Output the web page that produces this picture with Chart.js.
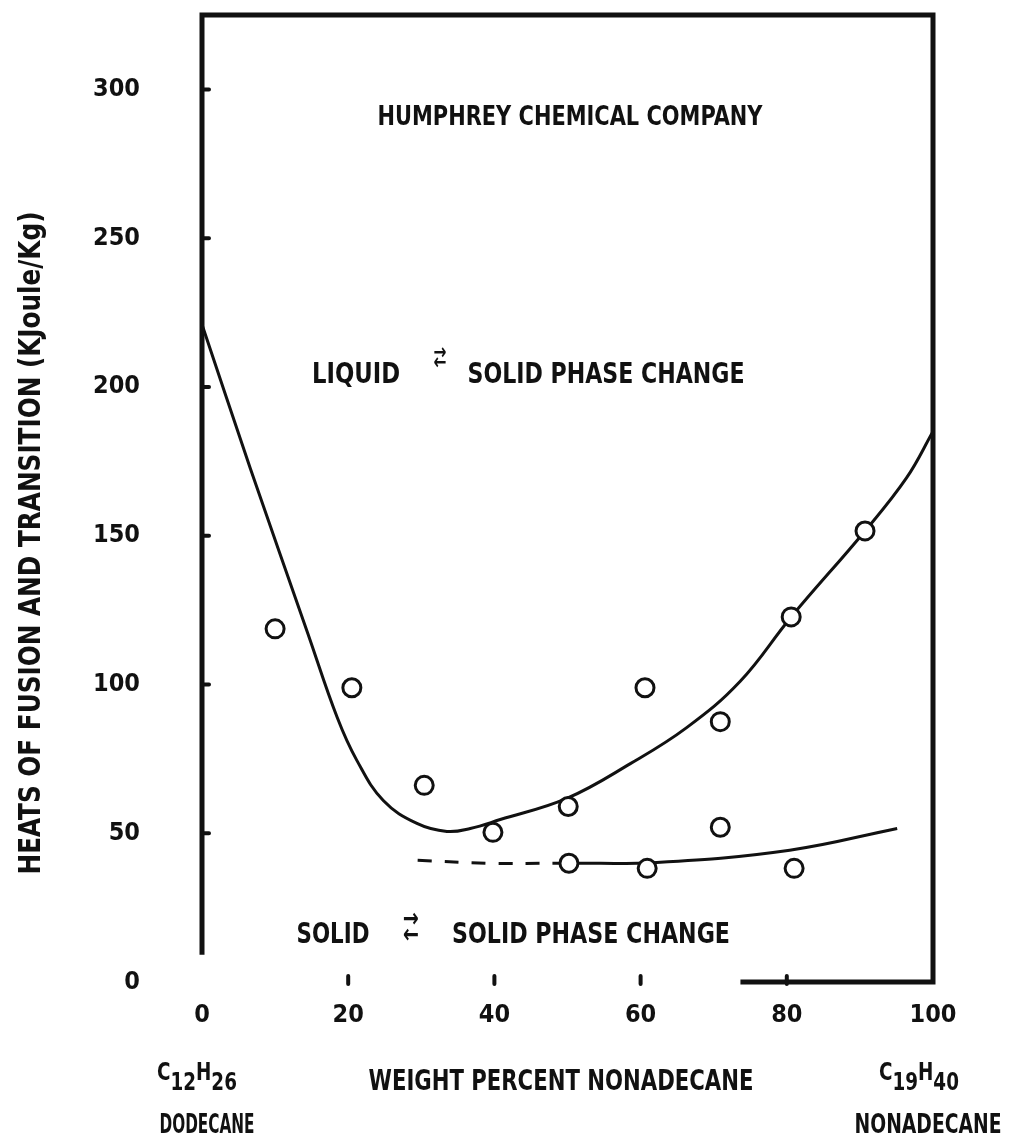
<!DOCTYPE html>
<html>
<head>
<meta charset="utf-8">
<script src="https://cdn.jsdelivr.net/npm/chart.js@4.4.1/dist/chart.umd.min.js"></script>
<style>
  html, body { margin: 0; padding: 0; background: #fff; }
  #wrap { width: 1009px; height: 1140px; position: relative; }
</style>
</head>
<body>
<div id="wrap"><canvas id="grafica"></canvas></div>
<script>
// ── DATOS ─────────────────────────────────────────────
const xTicks = [0, 20, 40, 60, 80, 100];
const yTicks = [0, 50, 100, 150, 200, 250, 300];

// medidos (circulos)
const puntosX = [10.0, 20.5, 30.4, 39.8, 50.1, 50.2, 60.6, 60.9, 70.9, 70.9, 80.6, 81.0, 90.7];
const puntosY = [118.7, 98.9, 66.1, 50.3, 59.0, 39.9, 98.9, 38.2, 87.5, 52.0, 122.7, 38.2, 151.6];

// curva superior: liquido <-> solido
const fusionX = [0, 6.6, 14.5, 18.5, 21.2, 24.8, 29.4, 33.5, 36.7, 40.8, 49.9, 58.6, 66.3, 73.6, 80.6, 90.7, 96.4, 100];
const fusionY = [221, 172.7, 117, 88.9, 74.4, 61, 53.3, 50.6, 51.6, 54.6, 61.7, 73.4, 85.5, 101, 122.7, 151.6, 169.5, 185];

// curva inferior: solido <-> solido (tramo punteado y tramo continuo)
const transDashX = [29.5, 39.4, 48.6, 50.1];
const transDashY = [40.9, 39.9, 39.9, 39.9];
const transX = [50.1, 62.2, 80.4, 95.1];
const transY = [39.9, 40.2, 44.3, 51.6];

const INK = '#111';
const FONT = "'DejaVu Sans Condensed', 'DejaVu Sans', sans-serif";

const toXY = (xs, ys) => xs.map((v, i) => ({ x: v, y: ys[i] }));

// texto comprimido al ancho deseado
function fitText(ctx, str, x, y, w, size, base) {
    ctx.font = 'bold ' + size + 'px ' + FONT;
    ctx.textAlign = 'center';
    ctx.textBaseline = base || 'alphabetic';
    const m = ctx.measureText(str).width;
    ctx.save();
    ctx.translate(x, y);
    ctx.scale(w / m, 1);
    ctx.fillText(str, 0, 0);
    ctx.restore();
}

// flechas dobles (arriba ->, abajo <-)
function flechas(ctx, x, y, w, size, gap) {
    fitText(ctx, '\u2192', x, y - gap, w, size, 'middle');
    fitText(ctx, '\u2190', x, y + gap, w, size, 'middle');
}

// formula con subindices
function formula(ctx, runs, x, y, size, sx) {
    ctx.font = 'bold ' + size + 'px ' + FONT;
    ctx.textAlign = 'left';
    ctx.textBaseline = 'alphabetic';
    let cx = x;
    runs.forEach(r => {
        const w = ctx.measureText(r.t).width * sx;
        ctx.save();
        ctx.translate(cx, y + (r.sub ? 10 : 0));
        ctx.scale(sx, 1);
        ctx.fillText(r.t, 0, 0);
        ctx.restore();
        cx += w;
    });
}

const marco = {
    id: 'marco',
    afterDatasetsDraw(chart) {
        const { ctx, chartArea: a, scales: { x, y } } = chart;
        ctx.save();
        ctx.strokeStyle = INK;
        ctx.fillStyle = INK;
        ctx.lineWidth = 5;
        ctx.lineCap = 'square';
        ctx.beginPath();
        ctx.moveTo(a.left, y.getPixelForValue(10));
        ctx.lineTo(a.left, a.top);
        ctx.lineTo(a.right, a.top);
        ctx.lineTo(a.right, a.bottom);
        ctx.lineTo(x.getPixelForValue(74), a.bottom);
        ctx.stroke();

        // marcas del eje y (hacia dentro)
        ctx.lineWidth = 4;
        ctx.lineCap = 'round';
        ctx.beginPath();
        yTicks.slice(1).forEach(v => {
            const py = y.getPixelForValue(v);
            ctx.moveTo(a.left, py);
            ctx.lineTo(a.left + 7, py);
        });
        // marcas del eje x
        xTicks.slice(1, -1).forEach(v => {
            const px = x.getPixelForValue(v);
            ctx.moveTo(px, a.bottom + 2);
            ctx.lineTo(px, a.bottom - 6);
        });
        ctx.stroke();

        // textos
        const notas = [
            ['HUMPHREY CHEMICAL COMPANY', 570, 125, 385, 27],
            ['LIQUID', 356, 383, 88, 29],
            ['SOLID PHASE CHANGE', 606, 383, 277, 29],
            ['SOLID', 333, 943, 73, 29],
            ['SOLID PHASE CHANGE', 591, 943, 278, 29],
            ['WEIGHT PERCENT NONADECANE', 561, 1090, 385, 29],
            ['DODECANE', 207, 1133, 95, 27],
            ['NONADECANE', 928, 1133, 147, 27]
        ];
        notas.forEach(n => fitText(ctx, n[0], n[1], n[2], n[3], n[4]));
        flechas(ctx, 440, 358, 13, 22, 5);
        flechas(ctx, 411, 928, 16, 26, 8);

        formula(ctx, [{ t: 'C' }, { t: '12', sub: true }, { t: 'H' }, { t: '26', sub: true }], 157, 1080, 24, 0.85);
        formula(ctx, [{ t: 'C' }, { t: '19', sub: true }, { t: 'H' }, { t: '40', sub: true }], 879, 1080, 24, 0.85);

        // titulo eje y
        ctx.save();
        ctx.translate(40, 543);
        ctx.rotate(-Math.PI / 2);
        fitText(ctx, 'HEATS OF FUSION AND TRANSITION (KJoule/Kg)', 0, 0, 663, 31);
        ctx.restore();
        ctx.restore();
    }
};

new Chart(document.getElementById('grafica'), {
    type: 'scatter',
    data: {
        datasets: [
            {
                data: toXY(puntosX, puntosY),
                pointStyle: 'circle',
                pointRadius: 9,
                pointBorderWidth: 3,
                pointBackgroundColor: '#fff',
                pointBorderColor: INK,
                showLine: false
            },
            {
                data: toXY(fusionX, fusionY),
                showLine: true,
                borderColor: INK,
                borderWidth: 3,
                pointRadius: 0,
                tension: 0.4
            },
            {
                data: toXY(transDashX, transDashY),
                showLine: true,
                borderColor: INK,
                borderWidth: 3,
                borderDash: [14, 13],
                pointRadius: 0,
                tension: 0.4
            },
            {
                data: toXY(transX, transY),
                showLine: true,
                borderColor: INK,
                borderWidth: 3,
                pointRadius: 0,
                tension: 0.4
            }
        ]
    },
    options: {
        responsive: true,
        maintainAspectRatio: false,
        animation: false,
        devicePixelRatio: 1,
        layout: { padding: { top: 13, right: 76, left: 0, bottom: 0 } },
        plugins: { legend: { display: false }, tooltip: { enabled: false } },
        scales: {
            x: {
                type: 'linear',
                min: 0,
                max: 100,
                grid: { display: false, drawTicks: true, tickLength: 18 },
                border: { display: false },
                afterBuildTicks: s => { s.ticks = xTicks.map(v => ({ value: v })); },
                afterFit: s => { s.height = 158; },
                ticks: {
                    color: INK,
                    padding: 0,
                    maxRotation: 0,
                    autoSkip: false,
                    font: { family: FONT, weight: 'bold', size: 25 }
                }
            },
            y: {
                type: 'linear',
                min: 0,
                max: 325,
                grid: { display: false, drawTicks: true, tickLength: 62 },
                border: { display: false },
                afterBuildTicks: s => { s.ticks = yTicks.map(v => ({ value: v })); },
                afterFit: s => { s.width = 202; },
                ticks: {
                    color: INK,
                    padding: 0,
                    autoSkip: false,
                    font: { family: FONT, weight: 'bold', size: 25 }
                }
            }
        }
    },
    plugins: [marco]
});
</script>
</body>
</html>
